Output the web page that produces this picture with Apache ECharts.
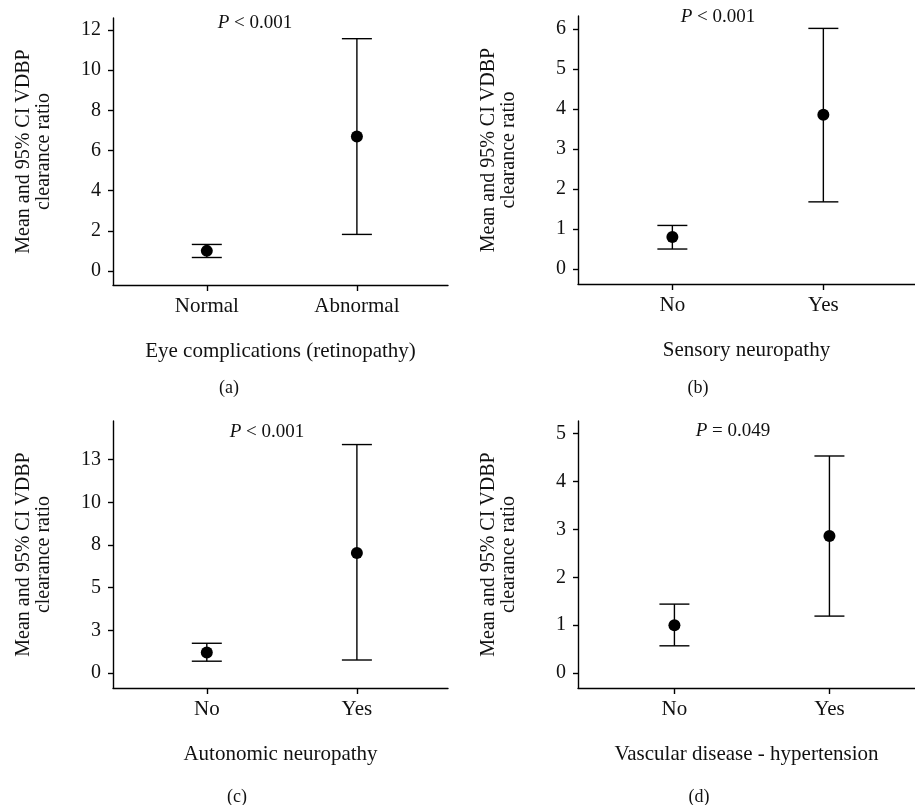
<!DOCTYPE html>
<html>
<head>
<meta charset="utf-8">
<script src="https://cdn.jsdelivr.net/npm/echarts@6/dist/echarts.min.js"></script>
<style>
  html, body { margin: 0; padding: 0; background: #fff; }
  #main { width: 915px; height: 805px; }
</style>
</head>
<body>
<div id="main"></div>
<script>
// data
const panelLetters = ['(a)', '(b)', '(c)', '(d)'];
const groupNames = [['Normal', 'Abnormal'], ['No', 'Yes'], ['No', 'Yes'], ['No', 'Yes']];
const axisTitles = ['Eye complications (retinopathy)', 'Sensory neuropathy', 'Autonomic neuropathy', 'Vascular disease - hypertension'];
const pValues = ['< 0.001', '< 0.001', '< 0.001', '= 0.049'];
const means = [[1.0, 6.7], [0.8, 3.86], [1.2, 7.03], [1.0, 2.86]];
const ciLow = [[0.67, 1.82], [0.5, 1.68], [0.69, 0.76], [0.57, 1.19]];
const ciHigh = [[1.32, 11.57], [1.09, 6.02], [1.74, 13.38], [1.44, 4.53]];
const yTicks = [[0, 2, 4, 6, 8, 10, 12], [0, 1, 2, 3, 4, 5, 6], [0, 2.5, 5, 7.5, 10, 12.5], [0, 1, 2, 3, 4, 5]];
const yMin = [-0.7, -0.375, -0.88, -0.31];
const yMax = [12.6, 6.33, 14.76, 5.26];

const yName = 'Mean and 95% CI VDBP\nclearance ratio';
const font = "'Liberation Serif', 'Times New Roman', serif";

var myChart = echarts.init(document.getElementById('main'));

var grids = [
    {left: 113, top: 18, right: 467, bottom: 520},
    {left: 578, top: 16, right: 0, bottom: 521},
    {left: 113, top: 421, right: 467, bottom: 117},
    {left: 578, top: 421, right: 0, bottom: 117}
];
var xRange = [[0.375, 2.607], [0.375, 2.607], [0.375, 2.607], [0.378, 2.552]];
var pPos = [[255, 23], [718, 17], [267, 432], [733, 431]];
var letterPos = [[229, 388], [698, 388], [237, 797], [699, 797]];

var xAxes = [], yAxes = [], series = [], graphics = [];

// vertical CI line with two caps
function renderBar(params, api) {
    var x = api.value(0);
    var top = api.coord([x, api.value(2)]);
    var bot = api.coord([x, api.value(1)]);
    var hw = 15;
    var st = {stroke: '#000', lineWidth: 1.4};
    return {
        type: 'group',
        children: [
            {type: 'line', shape: {x1: top[0], y1: top[1], x2: bot[0], y2: bot[1]}, style: st},
            {type: 'line', shape: {x1: top[0] - hw, y1: top[1], x2: top[0] + hw, y2: top[1]}, style: st},
            {type: 'line', shape: {x1: bot[0] - hw, y1: bot[1], x2: bot[0] + hw, y2: bot[1]}, style: st}
        ]
    };
}

for (let i = 0; i < 4; i++) {
    let names = groupNames[i];
    xAxes.push({
        type: 'value',
        gridIndex: i,
        min: xRange[i][0],
        max: xRange[i][1],
        name: axisTitles[i],
        nameLocation: 'middle',
        nameGap: 56,
        nameTextStyle: {fontFamily: font, fontSize: 21, color: '#111'},
        axisLine: {onZero: false, lineStyle: {color: '#000', width: 1.4}},
        axisTick: {show: true, length: 6, customValues: [1, 2], lineStyle: {color: '#000', width: 1.4}},
        axisLabel: {
            customValues: [1, 2],
            margin: 11,
            fontFamily: font, fontSize: 21, color: '#111',
            formatter: function (v) { return names[Math.round(v) - 1] || ''; }
        },
        splitLine: {show: false}
    });
    yAxes.push({
        type: 'value',
        gridIndex: i,
        min: yMin[i],
        max: yMax[i],
        name: yName,
        nameLocation: 'middle',
        nameGap: 59,
        nameRotate: 90,
        nameTextStyle: {fontFamily: font, fontSize: 20, color: '#111', lineHeight: 20},
        axisLine: {show: true, onZero: false, lineStyle: {color: '#000', width: 1.4}},
        axisTick: {show: true, length: 5, customValues: yTicks[i], lineStyle: {color: '#000', width: 1.4}},
        axisLabel: {
            customValues: yTicks[i],
            margin: 12,
            fontFamily: font, fontSize: 20, color: '#111',
            formatter: function (v) { return String(Math.round(v)); }
        },
        splitLine: {show: false}
    });
    let barData = [], dotData = [];
    for (let j = 0; j < 2; j++) {
        barData.push([j + 1, ciLow[i][j], ciHigh[i][j]]);
        dotData.push([j + 1, means[i][j]]);
    }
    series.push({
        type: 'custom',
        xAxisIndex: i,
        yAxisIndex: i,
        renderItem: renderBar,
        data: barData,
        silent: true,
        z: 2
    });
    series.push({
        type: 'scatter',
        xAxisIndex: i,
        yAxisIndex: i,
        symbol: 'circle',
        symbolSize: 12,
        itemStyle: {color: '#000', opacity: 1},
        data: dotData,
        silent: true,
        z: 3
    });
    graphics.push({
        type: 'text',
        x: pPos[i][0],
        y: pPos[i][1],
        style: {
            text: '{i|P} ' + pValues[i],
            rich: {i: {fontStyle: 'italic', fontFamily: font, fontSize: 19, fill: '#111'}},
            fontFamily: font, fontSize: 19, fill: '#111',
            align: 'center', verticalAlign: 'middle'
        }
    });
    graphics.push({
        type: 'text',
        x: letterPos[i][0],
        y: letterPos[i][1],
        style: {
            text: panelLetters[i],
            fontFamily: font, fontSize: 18, fill: '#111',
            align: 'center', verticalAlign: 'middle'
        }
    });
}

var option = {
    backgroundColor: '#fff',
    animation: false,
    grid: grids,
    xAxis: xAxes,
    yAxis: yAxes,
    series: series,
    graphic: graphics
};
myChart.setOption(option);
</script>
</body>
</html>
